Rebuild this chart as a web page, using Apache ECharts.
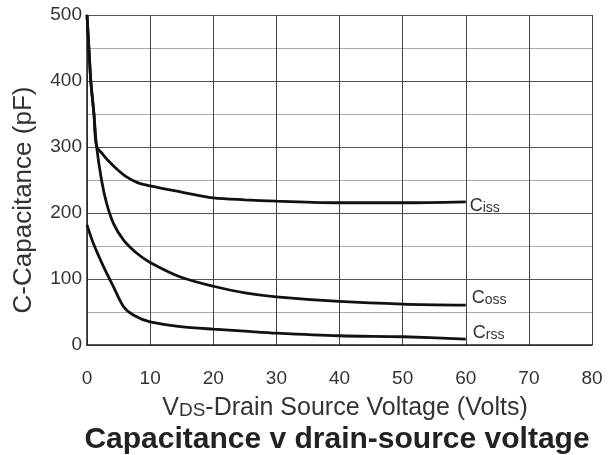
<!DOCTYPE html>
<html>
<head>
<meta charset="utf-8">
<script src="https://cdn.jsdelivr.net/npm/echarts@6/dist/echarts.min.js"></script>
<style>html,body{margin:0;padding:0;background:#fff}#c{width:615px;height:455px}</style>
</head>
<body>
<div id="c"></div>
<script>
const xTicks = [0, 10, 20, 30, 40, 50, 60, 70, 80];
const yTicks = [0, 100, 200, 300, 400, 500];
const ciss = [[0,500],[0.3,450],[0.6,400],[1.1,350],[1.5,302],[2.5,289],[3.5,278],[4.8,266],[6.2,255],[8,246],[10,241],[14.8,232],[20,223],[25,220],[30,218],[40,215.5],[50,215.5],[60,217]];
const coss = [[0,500],[0.3,450],[0.6,400],[1.1,350],[1.5,302],[2.3,250],[3.1,215],[4.2,184],[5.8,159],[7.9,139],[10,125],[14.8,103],[20,89],[25,79],[30,73],[40,66],[50,62],[60,60.5]];
const crss = [[0,182],[1,154],[2.6,119],[4.2,88],[5.8,58],[7.4,45],[10,35],[14.8,28],[20,24],[25,21],[30,18],[40,14],[50,12.5],[60,9]];
const seriesNames = [['C','iss'],['C','oss'],['C','rss']];
const labelOffsets = [[0,4],[2,-7],[3,-6]];

const font = 'Liberation Sans, Arial, sans-serif';
const chart = echarts.init(document.getElementById('c'));
function lineSeries(data, idx) {
  return {
    type: 'line', data: data, smooth: 0.3, showSymbol: false,
    lineStyle: { color: '#111', width: 2.8 },
    endLabel: {
      show: true, distance: 4, offset: labelOffsets[idx],
      formatter: '{a|' + seriesNames[idx][0] + '}{b|' + seriesNames[idx][1] + '}',
      rich: {
        a: { fontFamily: font, fontSize: 18, color: '#333', verticalAlign: 'bottom' },
        b: { fontFamily: font, fontSize: 14, color: '#333', verticalAlign: 'bottom' }
      }
    }
  };
}
chart.setOption({
  animation: false,
  backgroundColor: '#fff',
  grid: { left: 87, right: 23, top: 15, bottom: 110, containLabel: false },
  xAxis: {
    type: 'value', min: xTicks[0], max: xTicks[xTicks.length - 1], interval: 10,
    axisLine: { show: true, onZero: false, lineStyle: { color: '#222', width: 1.5 } },
    axisTick: { show: false },
    axisLabel: { margin: 24, fontFamily: font, fontSize: 19, color: '#333' },
    splitLine: { show: true, lineStyle: { color: '#444', width: 1 } }
  },
  yAxis: {
    type: 'value', min: yTicks[0], max: yTicks[yTicks.length - 1], interval: 100,
    axisLine: { show: true, lineStyle: { color: '#222', width: 1.5 } },
    axisTick: { show: false },
    axisLabel: { margin: 5, fontFamily: font, fontSize: 19, color: '#333' },
    splitLine: { show: true, lineStyle: { color: '#555', width: 1 } },
    minorTick: { show: false, splitNumber: 2 },
    minorSplitLine: { show: true, lineStyle: { color: '#aaa', width: 1 } }
  },
  series: [lineSeries(ciss, 0), lineSeries(coss, 1), lineSeries(crss, 2)],
  graphic: [
    {
      type: 'text', x: 24, y: 200, rotation: Math.PI / 2,
      style: { text: 'C-Capacitance (pF)', fontFamily: font, fontSize: 26, fill: '#333', align: 'center', verticalAlign: 'middle' }
    },
    {
      type: 'text', x: 345, y: 408,
      style: {
        text: '{a|V}{b|DS}{a|-Drain Source Voltage (Volts)}', align: 'center', verticalAlign: 'middle',
        rich: {
          a: { fontFamily: font, fontSize: 25, fill: '#333', verticalAlign: 'bottom' },
          b: { fontFamily: font, fontSize: 19, fill: '#333', verticalAlign: 'bottom' }
        }
      }
    },
    {
      type: 'text', x: 337, y: 440,
      style: { text: 'Capacitance v drain-source voltage', fontFamily: font, fontSize: 30, fontWeight: 'bold', fill: '#222', align: 'center', verticalAlign: 'middle' }
    }
  ]
});
</script>
</body>
</html>
